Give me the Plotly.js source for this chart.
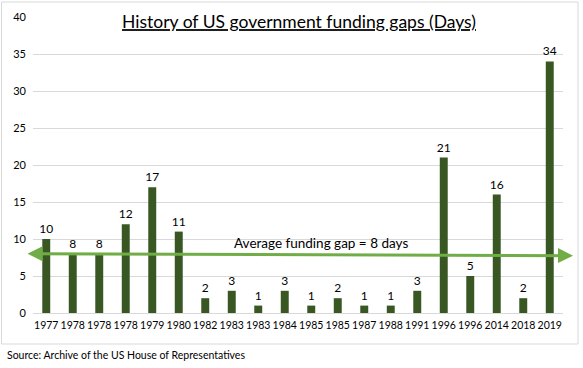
<!DOCTYPE html>
<html>
<head>
<meta charset="utf-8">
<script src="https://cdn.plot.ly/plotly-3.0.1.min.js"></script>
<style>
html,body{margin:0;padding:0;background:#fff;}
#chart{width:583px;height:368px;}
</style>
</head>
<body>
<div id="chart"></div>
<script>
const years = ["1977","1978","1978","1978","1979","1980","1982","1983","1983","1984","1985","1985","1987","1988","1991","1996","1996","2014","2018","2019"];
const days = [10,8,8,12,17,11,2,3,1,3,1,2,1,1,3,21,5,16,2,34];
const averageGap = 8;
const titleText = "History of US government funding gaps (Days)";
const averageLabel = "Average funding gap = 8 days";
const sourceText = "Source: Archive of the US House of Representatives";

const idx = years.map((_, i) => i);
const FONT = "Lato, 'Open Sans', sans-serif";

const trace = {
  type: "bar",
  x: idx,
  y: days,
  width: 0.3,
  marker: {color: "#385723"},
  text: days.map(String),
  textposition: "outside",
  constraintext: "none",
  cliponaxis: false,
  textfont: {family: FONT, size: 12, color: "#000000"},
  hoverinfo: "skip"
};

const W = 583, H = 368;
const m = {l: 33, r: 20, t: 17, b: 55};
const pw = W - m.l - m.r, ph = H - m.t - m.b;
const px = v => (v - m.l) / pw;
const py = v => (H - m.b - v) / ph;

const layout = {
  width: W, height: H,
  margin: m,
  paper_bgcolor: "#ffffff",
  plot_bgcolor: "#ffffff",
  showlegend: false,
  bargap: 0.7,
  font: {family: FONT, size: 11, color: "#000000"},
  title: {
    text: "<u>" + titleText + "</u>",
    font: {family: FONT, size: 17.5, color: "#000000"},
    x: px(299), xanchor: "center",
    y: 1 - 22/H, yanchor: "middle",
    xref: "paper", yref: "container"
  },
  xaxis: {
    range: [-0.5, years.length - 0.5],
    tickmode: "array",
    tickvals: idx,
    ticktext: years,
    tickangle: 0,
    showgrid: false,
    zeroline: false,
    showline: false,
    ticks: "",
    ticklabelstandoff: 4,
    tickfont: {family: FONT, size: 10.5, color: "#000000"},
    fixedrange: true
  },
  yaxis: {
    range: [0, 40],
    dtick: 5,
    showgrid: true,
    gridcolor: "#d9d9d9",
    gridwidth: 1,
    zeroline: true,
    zerolinecolor: "#d9d9d9",
    zerolinewidth: 1,
    showline: false,
    ticks: "",
    ticklabelstandoff: 6,
    tickfont: {family: FONT, size: 11, color: "#000000"},
    fixedrange: true
  },
  shapes: [
    {type: "rect", xref: "paper", yref: "paper",
     x0: px(1.5), x1: px(578), y0: py(344), y1: py(2),
     line: {color: "#d9d9d9", width: 1}, fillcolor: "rgba(0,0,0,0)", layer: "below"}
  ],
  annotations: [
    {
      xref: "paper", yref: "y", axref: "pixel", ayref: "pixel",
      x: px(573), y: averageGap - 0.25,
      ax: -(573 - 26), ay: -2,
      text: "", showarrow: true,
      arrowhead: 2, startarrowhead: 2, arrowside: "end+start",
      arrowsize: 1, startarrowsize: 1,
      arrowwidth: 3, arrowcolor: "#70ad47",
      standoff: 0, startstandoff: 0
    },
    {
      xref: "x", yref: "y",
      x: 10.35, y: averageGap + 1.4,
      text: averageLabel, showarrow: false,
      font: {family: FONT, size: 13.5, color: "#000000"},
      xanchor: "center", yanchor: "middle"
    },
    {
      xref: "paper", yref: "paper",
      x: px(5), y: py(355),
      text: sourceText, showarrow: false,
      xanchor: "left", yanchor: "middle",
      font: {family: FONT, size: 10.5, color: "#000000"}
    }
  ]
};

Plotly.newPlot("chart", [trace], layout, {displayModeBar: false, staticPlot: true});
</script>
</body>
</html>
